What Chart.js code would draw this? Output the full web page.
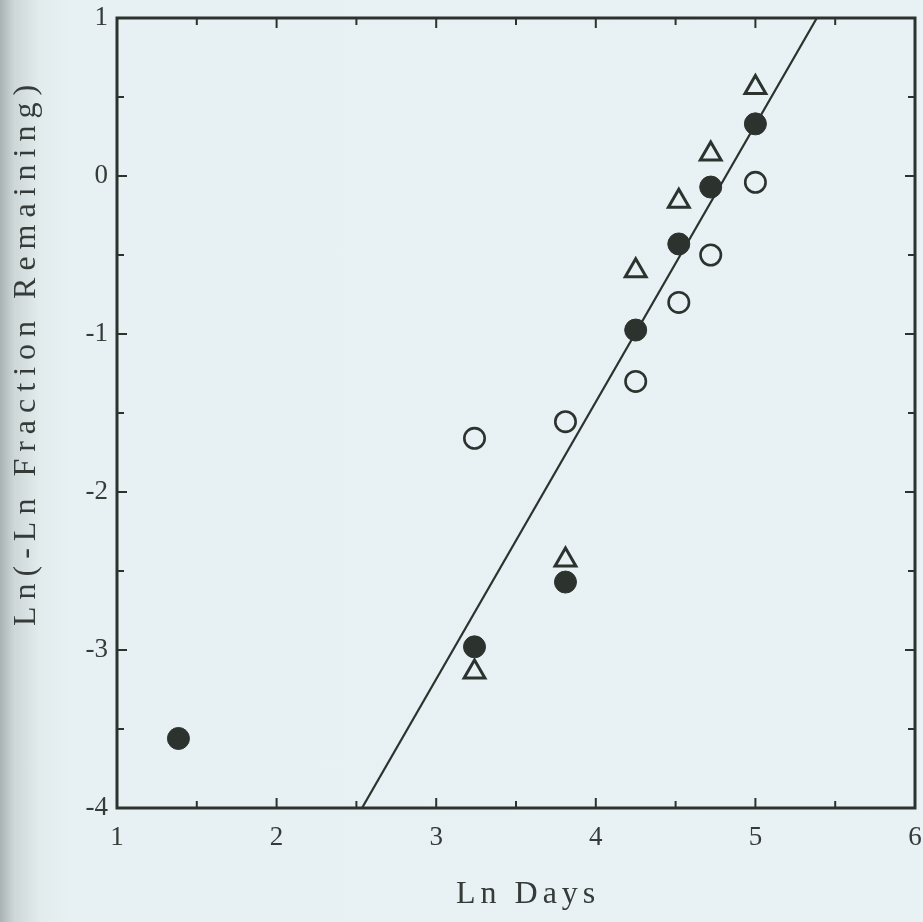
<!DOCTYPE html>
<html>
<head>
<meta charset="utf-8">
<script src="https://cdn.jsdelivr.net/npm/chart.js@4.4.1/dist/chart.umd.min.js"></script>
<style>
  html, body { margin: 0; padding: 0; }
  body {
    width: 923px; height: 922px; overflow: hidden;
    background: linear-gradient(to right, #a9b3b3 0px, #cdd7d8 14px, #e2eced 40px, #e7f0f2 70px, #e8f1f3 100%);
  }
  #wrap { position: relative; width: 923px; height: 922px; }
</style>
</head>
<body>
<div id="wrap"><canvas id="plot" width="923" height="922"></canvas></div>
<script>
// Ln Days for each sampling time
const lnDays = [3.24, 3.81, 4.25, 4.52, 4.72, 5.0];

// Ln(-Ln fraction remaining)
const filledX = [1.385, 3.24, 3.81, 4.25, 4.52, 4.72, 5.0];
const filledY = [-3.56, -2.98, -2.57, -0.975, -0.43, -0.07, 0.33];
const openY = [-1.66, -1.555, -1.30, -0.80, -0.50, -0.04];
const triangleY = [-3.14, -2.43, -0.60, -0.16, 0.14, 0.56];

// fitted line end points
const fitX = [2.535, 5.385];
const fitY = [-4, 1];

const xTicks = [1, 2, 3, 4, 5, 6];
const yTicks = [1, 0, -1, -2, -3, -4];

const xTitle = 'Ln Days';
const yTitle = 'Ln(-Ln Fraction Remaining)';

const ink = '#2c332f';
const textInk = '#353b38';
const serif = "'Liberation Serif', 'DejaVu Serif', serif";

/**
 * Pairs x and y arrays into points.
 */
function toPoints(xs, ys) {
  return xs.map((x, i) => ({ x: x, y: ys[i] }));
}

/**
 * Draws the frame and the inward tick marks on all four sides.
 */
const frameTicks = {
  id: 'frameTicks',
  afterDatasetsDraw(chart) {
    const { ctx, chartArea: a, scales: { x, y } } = chart;
    ctx.save();
    ctx.strokeStyle = ink;
    ctx.lineCap = 'butt';
    ctx.lineWidth = 2;
    for (let v = 1.5; v < 6; v += 0.5) {
      const px = x.getPixelForValue(v);
      const len = Number.isInteger(v) ? 10 : 7;
      ctx.beginPath();
      ctx.moveTo(px, a.bottom); ctx.lineTo(px, a.bottom - len);
      ctx.moveTo(px, a.top); ctx.lineTo(px, a.top + len);
      ctx.stroke();
    }
    for (let v = -3.5; v < 1; v += 0.5) {
      const py = y.getPixelForValue(v);
      const len = Number.isInteger(v) ? 10 : 7;
      ctx.beginPath();
      ctx.moveTo(a.left, py); ctx.lineTo(a.left + len, py);
      ctx.moveTo(a.right, py); ctx.lineTo(a.right - len, py);
      ctx.stroke();
    }
    ctx.lineWidth = 3;
    ctx.strokeRect(a.left, a.top, a.right - a.left, a.bottom - a.top);
    ctx.restore();
  }
};

/**
 * Axis titles, spaced out like the typeset original.
 */
const axisTitles = {
  id: 'axisTitles',
  afterDraw(chart) {
    const { ctx } = chart;
    ctx.save();
    ctx.fillStyle = textInk;
    ctx.font = '32px ' + serif;
    ctx.textAlign = 'left';
    ctx.textBaseline = 'alphabetic';
    ctx.letterSpacing = '5px';
    ctx.fillText(xTitle, 456, 903);

    ctx.letterSpacing = '7px';
    ctx.translate(35, 626);
    ctx.rotate(-Math.PI / 2);
    ctx.fillText(yTitle, 0, 0);
    ctx.restore();
  }
};

new Chart(document.getElementById('plot'), {
  type: 'scatter',
  data: {
    datasets: [
      {
        label: 'fit',
        type: 'line',
        data: toPoints(fitX, fitY),
        borderColor: ink,
        borderWidth: 2.2,
        pointRadius: 0,
        fill: false,
        order: 5
      },
      {
        label: 'filled',
        data: toPoints(filledX, filledY),
        pointStyle: 'circle',
        pointRadius: 11,
        backgroundColor: ink,
        borderColor: ink,
        borderWidth: 1
      },
      {
        label: 'open',
        data: toPoints(lnDays, openY),
        pointStyle: 'circle',
        pointRadius: 10.2,
        backgroundColor: 'rgba(0,0,0,0)',
        borderColor: ink,
        borderWidth: 2.6
      },
      {
        label: 'triangle',
        data: toPoints(lnDays, triangleY),
        pointStyle: 'triangle',
        pointRadius: 12,
        backgroundColor: 'rgba(0,0,0,0)',
        borderColor: ink,
        borderWidth: 3
      }
    ]
  },
  options: {
    responsive: false,
    animation: false,
    layout: { autoPadding: false, padding: { top: 18, right: 8, left: 0, bottom: 0 } },
    plugins: {
      legend: { display: false },
      tooltip: { enabled: false }
    },
    scales: {
      x: {
        type: 'linear',
        min: 1,
        max: 6,
        afterFit: (s) => { s.height = 114; s.paddingLeft = 0; s.paddingRight = 0; },
        afterBuildTicks: (s) => { s.ticks = xTicks.map(v => ({ value: v })); },
        grid: { display: false, drawTicks: false },
        border: { display: false },
        ticks: {
          color: textInk,
          padding: 14,
          font: { family: serif, size: 27 }
        }
      },
      y: {
        type: 'linear',
        min: -4,
        max: 1,
        afterFit: (s) => { s.width = 117; s.paddingTop = 0; s.paddingBottom = 0; },
        afterBuildTicks: (s) => { s.ticks = yTicks.map(v => ({ value: v })); },
        grid: { display: false, drawTicks: false },
        border: { display: false },
        ticks: {
          color: textInk,
          padding: 9,
          font: { family: serif, size: 27 }
        }
      }
    }
  },
  plugins: [frameTicks, axisTitles]
});
</script>
</body>
</html>
